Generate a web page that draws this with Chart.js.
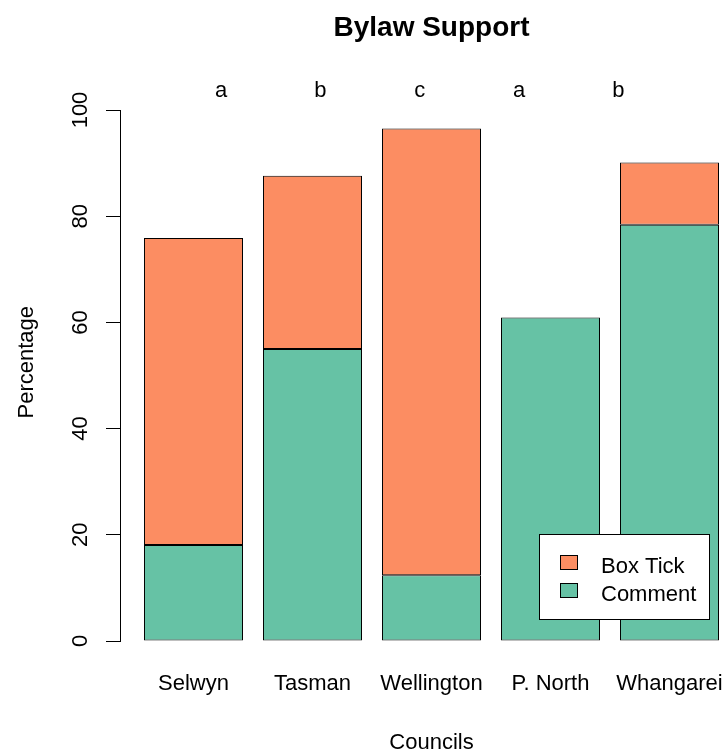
<!DOCTYPE html>
<html>
<head>
<meta charset="utf-8">
<title>Bylaw Support</title>
<script src="https://cdn.jsdelivr.net/npm/chart.js@4.4.1/dist/chart.umd.min.js"></script>
<style>
  html, body { margin: 0; padding: 0; background: #fff; overflow: hidden; }
  #wrap { width: 726px; height: 752px; position: relative; }
</style>
</head>
<body>
<div id="wrap"><canvas id="chart"></canvas></div>
<script>
// Councils surveyed and the share of support expressed each way (%)
const councils = ['Selwyn', 'Tasman', 'Wellington', 'P. North', 'Whangarei'];
const commentPct = [18.1, 55.0, 12.4, 60.9, 78.4];
const boxTickPct = [57.8, 32.6, 84.1, 0, 11.7];
// Significance grouping letters shown above the plot
const groupLetters = ['a', 'b', 'c', 'a', 'b'];
const yTickValues = [0, 20, 40, 60, 80, 100];

const FONT = '"Liberation Sans", Arial, Helvetica, sans-serif';
const TEXT = '#000';

// Draws the title, axis labels, rotated y tick labels, group letters and the boxed legend
const annotations = {
  id: 'annotations',
  afterDraw(chart) {
    const { ctx, chartArea, scales } = chart;
    const x = scales.x, y = scales.y;
    ctx.save();
    ctx.fillStyle = TEXT;

    // main title, centred over the bars
    const midX = x.getPixelForValue((councils.length - 1) / 2);
    ctx.font = 'bold 28px ' + FONT;
    ctx.textAlign = 'center';
    ctx.textBaseline = 'alphabetic';
    ctx.fillText('Bylaw Support', midX, 36);

    // x axis title
    ctx.font = '22px ' + FONT;
    ctx.fillText('Councils', midX, 749);

    // rotated y tick labels
    yTickValues.forEach(v => {
      ctx.save();
      ctx.translate(chartArea.left - 33, y.getPixelForValue(v));
      ctx.rotate(-Math.PI / 2);
      ctx.textAlign = 'center';
      ctx.fillText(String(v), 0, 0);
      ctx.restore();
    });

    // y axis title
    ctx.save();
    ctx.translate(33, y.getPixelForValue(52.5));
    ctx.rotate(-Math.PI / 2);
    ctx.textAlign = 'center';
    ctx.fillText('Percentage', 0, 0);
    ctx.restore();

    // group letters, evenly spaced above the plot
    groupLetters.forEach((s, i) => {
      ctx.fillText(s, x.getPixelForValue(0.232 + i * 0.8345), chartArea.top - 13);
    });

    // legend box in the lower right of the plot
    const items = chart.data.datasets.slice().reverse();
    const bw = 170, bh = 85;
    const bx = chartArea.right - 17 - bw, by = chartArea.bottom - 22 - bh;
    ctx.fillStyle = '#fff';
    ctx.fillRect(bx, by, bw, bh);
    ctx.strokeStyle = '#000';
    ctx.lineWidth = 1;
    ctx.strokeRect(bx + 0.5, by + 0.5, bw, bh);
    ctx.textAlign = 'left';
    items.forEach((ds, i) => {
      const rowY = by + 21 + i * 28;
      ctx.fillStyle = ds.backgroundColor;
      ctx.fillRect(bx + 21, rowY, 18, 15);
      ctx.strokeRect(bx + 21.5, rowY + 0.5, 17, 14);
      ctx.fillStyle = TEXT;
      ctx.fillText(ds.label, bx + 62, rowY + 18);
    });
    ctx.restore();
  }
};

new Chart(document.getElementById('chart'), {
  type: 'bar',
  data: {
    datasets: [
      {
        label: 'Comment',
        data: commentPct.map((v, i) => ({ x: i, y: v })),
        backgroundColor: '#66C2A5'
      },
      {
        label: 'Box Tick',
        data: boxTickPct.map((v, i) => ({ x: i, y: v })),
        backgroundColor: '#FC8D62'
      }
    ]
  },
  options: {
    responsive: true,
    maintainAspectRatio: false,
    animation: false,
    devicePixelRatio: 1,
    layout: { padding: { left: 106, top: 110, right: 0, bottom: 54.6 } },
    datasets: {
      bar: {
        borderColor: '#000',
        borderWidth: 1,
        borderSkipped: false,
        categoryPercentage: 1,
        barPercentage: 0.832
      }
    },
    scales: {
      x: {
        type: 'linear',
        stacked: true,
        min: -0.6176,
        max: 4.4748,
        offset: false,
        afterBuildTicks: scale => { scale.ticks = councils.map((_, i) => ({ value: i })); },
        border: { display: false },
        grid: { display: true, drawOnChartArea: false, drawTicks: true, tickLength: 30, color: 'rgba(0,0,0,0)' },
        ticks: {
          padding: 0,
          autoSkip: false,
          maxRotation: 0,
          minRotation: 0,
          color: TEXT,
          font: { family: FONT, size: 22 },
          callback: v => councils[v]
        }
      },
      y: {
        stacked: true,
        min: 0,
        max: 100,
        afterBuildTicks: scale => { scale.ticks = yTickValues.map(v => ({ value: v })); },
        border: { display: true, color: '#000', width: 1 },
        grid: { display: true, drawOnChartArea: false, drawTicks: true, tickLength: 14, color: '#000', lineWidth: 1 },
        ticks: { display: false }
      }
    },
    plugins: {
      legend: { display: false },
      tooltip: { enabled: false },
      title: { display: false }
    }
  },
  plugins: [annotations]
});
</script>
</body>
</html>
